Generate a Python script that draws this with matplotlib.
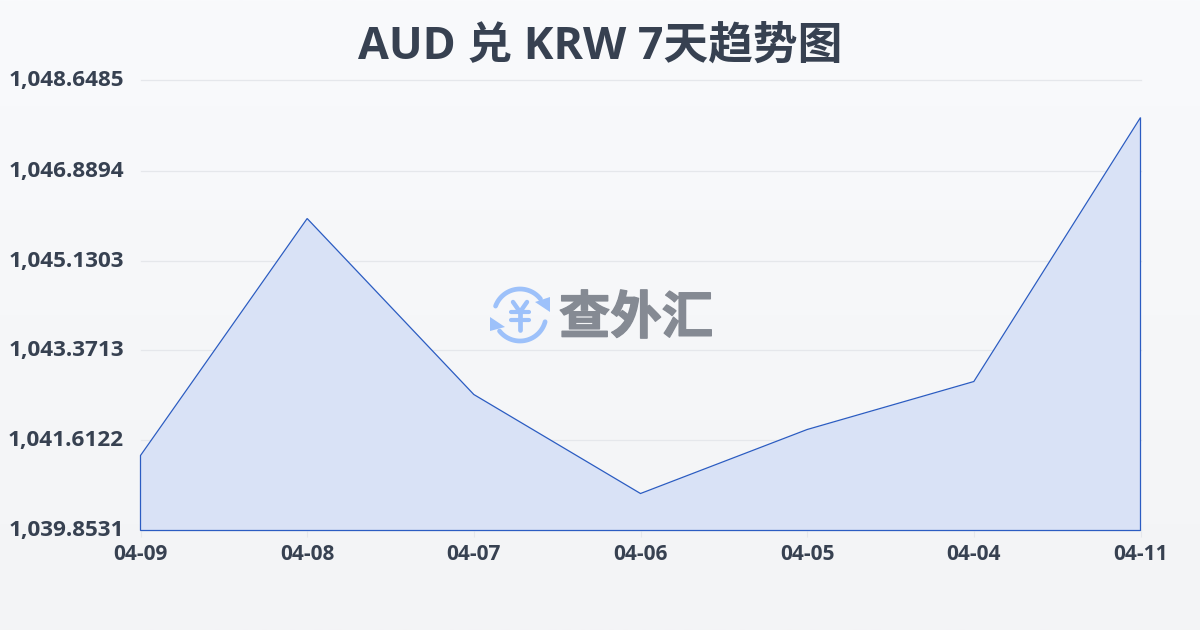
import matplotlib
matplotlib.use('Agg')
import matplotlib.pyplot as plt
import matplotlib.patheffects as pe
import matplotlib.transforms as mtrans
import numpy as np
from matplotlib.patches import Polygon
from matplotlib.colors import LinearSegmentedColormap

plt.rcParams['font.family'] = ['Open Sans', 'Noto Sans CJK SC', 'DejaVu Sans']

# Data
dates = ['04-09', '04-08', '04-07', '04-06', '04-05', '04-04', '04-11']
rates = [1041.319, 1045.951, 1042.511, 1040.576, 1041.827, 1042.765, 1047.925]
y_ticks = [1039.8531, 1041.6122, 1043.3713, 1045.1303, 1046.8894, 1048.6485]
y_labels = ['1,039.8531', '1,041.6122', '1,043.3713', '1,045.1303', '1,046.8894', '1,048.6485']

W, H = 1200, 630
fig = plt.figure(figsize=(W / 100, H / 100), dpi=100)

# Page background, light vertical gradient
bg = fig.add_axes([0, 0, 1, 1], zorder=0)
bg_cmap = LinearSegmentedColormap.from_list('page', ['#f9fafc', '#f3f4f6'])
bg.imshow(np.linspace(0, 1, 256).reshape(-1, 1), cmap=bg_cmap, aspect='auto')
bg.axis('off')

# Main chart
ax = fig.add_axes([140.5 / W, 1 - 530.5 / H, 1000 / W, 450 / H], zorder=1)
ax.patch.set_alpha(0)
x = np.arange(len(dates))
ax.set_xlim(0, len(dates) - 1)
ax.set_ylim(y_ticks[0], y_ticks[-1])

ax.fill_between(x, rates, y_ticks[0], color='#d9e2f6', lw=0, zorder=2)
outline = np.column_stack([np.r_[x[0], x, x[-1]], np.r_[y_ticks[0], rates, y_ticks[0]]])
ax.add_patch(Polygon(outline, closed=True, fill=False, edgecolor='#2b5cc2', lw=0.9,
                     zorder=3, clip_on=False))

ax.set_yticks(y_ticks)
ax.set_yticklabels(y_labels, fontsize=16.2, fontweight='bold', color='#374151')
ax.set_xticks(x)
ax.set_xticklabels(dates, fontsize=15, fontweight='bold', color='#374151')
ax.tick_params(axis='y', length=0, pad=12)
ax.tick_params(axis='x', length=4, width=0.8, color='#e5e7eb', pad=6)
# y labels sit about 2px above their gridlines
up = mtrans.ScaledTranslation(0, 2 / 100, fig.dpi_scale_trans)
for lab in ax.get_yticklabels():
    lab.set_transform(lab.get_transform() + up)
ax.grid(True, axis='y', color='#e5e7eb', lw=0.9, zorder=1)
for line in ax.get_ygridlines():
    line.set_clip_on(False)
for s in ax.spines.values():
    s.set_visible(False)

fig.text(600 / W, 1 - 47 / H, 'AUD 兑 KRW 7天趋势图', fontsize=32.2, fontweight='bold',
         color='#374151', ha='center', va='center', zorder=5)

# Watermark logo, drawn in pixel coordinates
logo = fig.add_axes([0, 0, 1, 1], zorder=4)
logo.set_xlim(0, W)
logo.set_ylim(H, 0)
logo.axis('off')
logo.patch.set_alpha(0)
blue = '#9dc1fa'
cx, cy, r = 520, 315, 26
for start, end in [(38, 160), (218, 345)]:
    t = np.radians(np.linspace(start, end, 60))
    logo.plot(cx + r * np.cos(t), cy - r * np.sin(t), color=blue, lw=3.4, solid_capstyle='round')
logo.add_patch(Polygon([[490, 317], [490, 331], [505, 327]], closed=True, color=blue, lw=0))
logo.add_patch(Polygon([[550, 312], [550, 297], [535, 302]], closed=True, color=blue, lw=0))
# yen sign
logo.plot([513, 520, 527], [302, 312, 302], color=blue, lw=3.2, solid_capstyle='round')
logo.plot([520, 520], [312, 330], color=blue, lw=3.4, solid_capstyle='round')
logo.plot([511, 529], [312, 312], color=blue, lw=3.0, solid_capstyle='round')
logo.plot([511, 529], [320, 320], color=blue, lw=3.0, solid_capstyle='round')
logo.text(636, 318, '查外汇', fontsize=37, fontweight='bold', color='#858a93', ha='center', va='center',
          family='Noto Sans CJK SC',
          path_effects=[pe.withStroke(linewidth=1, foreground='#858a93')])

fig.savefig('out.png', dpi=100)
